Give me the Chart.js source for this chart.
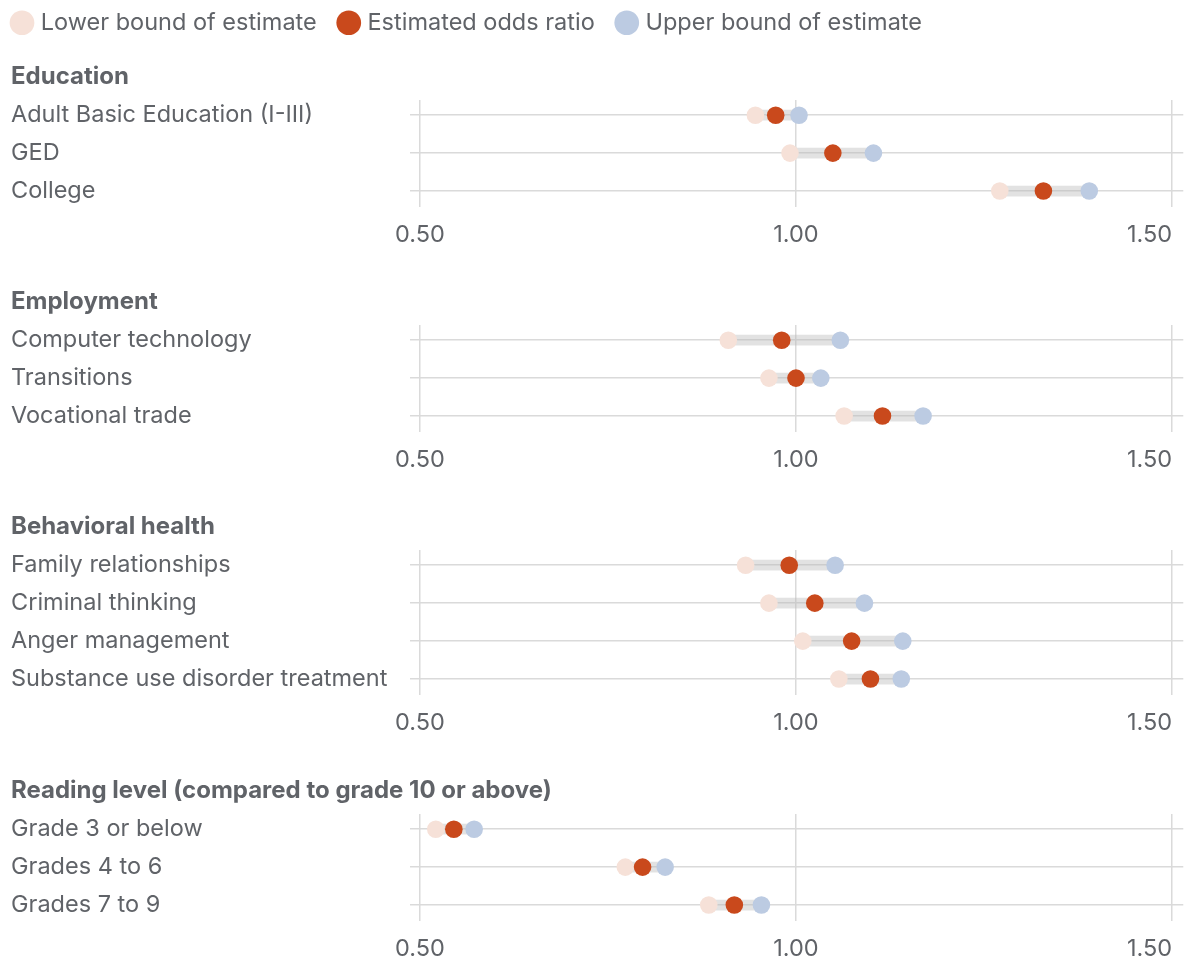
<!DOCTYPE html>
<html>
<head>
<meta charset="utf-8">
<script src="https://cdn.jsdelivr.net/npm/chart.js@4.4.1/dist/chart.umd.min.js"></script>
<style>
  html, body { margin: 0; padding: 0; background: #fff; overflow: hidden; }
  #wrap { position: relative; width: 1186px; height: 961px; overflow: hidden; background: #fff; }
  #wrap canvas { position: absolute; }
</style>
</head>
<body>
<div id="wrap">
  <canvas id="educationChart"></canvas>
  <canvas id="employmentChart"></canvas>
  <canvas id="behavioralChart"></canvas>
  <canvas id="readingChart"></canvas>
  <canvas id="legendChart"></canvas>
</div>
<script>
// ---- data ----
const seriesNames = ['Lower bound of estimate', 'Estimated odds ratio', 'Upper bound of estimate'];
const xTickValues = [0.5, 1.0, 1.5];

const educationLabels   = ['Adult Basic Education (I-III)', 'GED', 'College'];
const educationLower    = [0.946, 0.992, 1.271];
const educationEstimate = [0.973, 1.049, 1.329];
const educationUpper    = [1.004, 1.103, 1.390];

const employmentLabels   = ['Computer technology', 'Transitions', 'Vocational trade'];
const employmentLower    = [0.910, 0.964, 1.064];
const employmentEstimate = [0.981, 1.000, 1.115];
const employmentUpper    = [1.059, 1.033, 1.169];

const behavioralLabels   = ['Family relationships', 'Criminal thinking', 'Anger management', 'Substance use disorder treatment'];
const behavioralLower    = [0.933, 0.964, 1.009, 1.057];
const behavioralEstimate = [0.991, 1.025, 1.074, 1.099];
const behavioralUpper    = [1.052, 1.091, 1.142, 1.140];

const readingLabels   = ['Grade 3 or below', 'Grades 4 to 6', 'Grades 7 to 9'];
const readingLower    = [0.521, 0.773, 0.884];
const readingEstimate = [0.545, 0.796, 0.918];
const readingUpper    = [0.572, 0.826, 0.954];

// ---- style ----
const FONT = 'Inter, Lato, sans-serif';
const TEXT_COLOR = '#606368';
const GRID_COLOR = '#dadada';
const LOWER_COLOR = '#f6e1d8';
const EST_COLOR = '#c9491c';
const UPPER_COLOR = '#bccbe2';
const RANGE_COLOR = 'rgba(185,185,185,0.42)';
const FONT_SIZE = 23.5;
const TITLE_SIZE = 24;
const DOT_RADIUS = 8.8;

const WIDTH = 1186;
const ROW = 38;            // px between rows
const PAD_TOP = 0.4;       // chart-area margin above first row (in rows)
const PAD_BOTTOM = 0.42;   // chart-area margin below last row (in rows)
const TITLE_PAD_TOP = 5.6;
const TITLE_PAD_BOTTOM = 8.6;
const TITLE_BOX = TITLE_PAD_TOP + TITLE_SIZE * 1.2 + TITLE_PAD_BOTTOM;
const AXIS_H = 46;
const X_MAX = 1.515;

Chart.defaults.font.family = FONT;
Chart.defaults.color = TEXT_COLOR;

// ---- legend ----
(function () {
  const c = document.getElementById('legendChart');
  c.width = WIDTH + 10; c.height = 200;
  c.style.left = '-10px'; c.style.top = '-14px';
  new Chart(c, {
    type: 'scatter',
    data: {
      datasets: [
        { label: seriesNames[0], data: [], backgroundColor: LOWER_COLOR, borderWidth: 0, pointStyle: 'circle' },
        { label: seriesNames[1], data: [], backgroundColor: EST_COLOR, borderWidth: 0, pointStyle: 'circle' },
        { label: seriesNames[2], data: [], backgroundColor: UPPER_COLOR, borderWidth: 0, pointStyle: 'circle' }
      ]
    },
    options: {
      responsive: false,
      animation: false,
      events: [],
      scales: { x: { display: false }, y: { display: false } },
      plugins: {
        tooltip: { enabled: false },
        legend: {
          display: true,
          position: 'top',
          align: 'start',
          labels: {
            usePointStyle: true,
            boxWidth: 14,
            boxHeight: 17.5,
            padding: 25,
            color: TEXT_COLOR,
            font: { size: FONT_SIZE, family: FONT }
          }
        }
      }
    }
  });
})();

// ---- one dot-plot panel ----
function makePanel(id, top, title, labels, lower, estimate, upper) {
  const n = labels.length;
  const rows = labels.map((_, i) => i);
  const c = document.getElementById(id);
  c.width = WIDTH;
  c.height = Math.round(TITLE_BOX + ROW * (n - 1 + PAD_TOP + PAD_BOTTOM) + AXIS_H);
  c.style.left = '0px';
  c.style.top = top + 'px';

  new Chart(c, {
    type: 'scatter',
    data: {
      datasets: [
        {
          type: 'bar',
          indexAxis: 'y',
          data: rows.map(i => ({ y: i, x: [lower[i], upper[i]] })),
          backgroundColor: RANGE_COLOR,
          borderWidth: 0,
          barThickness: 10,
          order: 3
        },
        {
          data: rows.map(i => ({ x: lower[i], y: i })),
          backgroundColor: LOWER_COLOR,
          pointRadius: DOT_RADIUS, pointHoverRadius: DOT_RADIUS, pointBorderWidth: 0,
          order: 2
        },
        {
          data: rows.map(i => ({ x: upper[i], y: i })),
          backgroundColor: UPPER_COLOR,
          pointRadius: DOT_RADIUS, pointHoverRadius: DOT_RADIUS, pointBorderWidth: 0,
          order: 2
        },
        {
          data: rows.map(i => ({ x: estimate[i], y: i })),
          backgroundColor: EST_COLOR,
          pointRadius: DOT_RADIUS, pointHoverRadius: DOT_RADIUS, pointBorderWidth: 0,
          order: 1
        }
      ]
    },
    options: {
      responsive: false,
      animation: false,
      events: [],
      layout: { padding: { left: 11, right: 0, top: 0, bottom: 0 }, autoPadding: false },
      plugins: {
        legend: { display: false },
        tooltip: { enabled: false },
        title: {
          display: true,
          text: title,
          align: 'start',
          color: TEXT_COLOR,
          font: { size: TITLE_SIZE, weight: 'bold', family: FONT },
          padding: { top: TITLE_PAD_TOP, bottom: TITLE_PAD_BOTTOM }
        }
      },
      scales: {
        x: {
          type: 'linear',
          min: xTickValues[0],
          max: X_MAX,
          offset: false,
          // an unlabeled leading tick keeps "0.50" centred while 'inner' right-aligns the last label
          afterBuildTicks: s => { s.ticks = [xTickValues[0]].concat(xTickValues).map(v => ({ value: v })); },
          afterFit: s => { s.height = AXIS_H; },
          border: { display: false },
          grid: {
            offset: false,
            drawTicks: false,
            lineWidth: 1.5,
            color: ctx => (ctx.index === 0 ? 'rgba(0,0,0,0)' : GRID_COLOR)
          },
          ticks: {
            align: 'inner',
            autoSkip: false,
            maxRotation: 0,
            padding: 14,
            color: TEXT_COLOR,
            font: { size: FONT_SIZE, family: FONT },
            callback: (v, i) => (i === 0 ? '' : Number(v).toFixed(2))
          }
        },
        y: {
          type: 'linear',
          reverse: true,
          offset: false,
          min: -PAD_TOP,
          max: n - 1 + PAD_BOTTOM,
          afterBuildTicks: s => { s.ticks = rows.map(v => ({ value: v })); },
          afterFit: s => { s.width = 420 - 11; },
          border: { display: false },
          grid: { offset: false, color: GRID_COLOR, lineWidth: 1.5, drawTicks: true, tickLength: 10 },
          ticks: {
            autoSkip: false,
            crossAlign: 'far',
            color: TEXT_COLOR,
            font: { size: FONT_SIZE, family: FONT },
            callback: v => labels[Math.round(v)]
          }
        }
      }
    }
  });
}

makePanel('educationChart', 57, 'Education', educationLabels, educationLower, educationEstimate, educationUpper);
makePanel('employmentChart', 282, 'Employment', employmentLabels, employmentLower, employmentEstimate, employmentUpper);
makePanel('behavioralChart', 507, 'Behavioral health', behavioralLabels, behavioralLower, behavioralEstimate, behavioralUpper);
makePanel('readingChart', 771, 'Reading level (compared to grade 10 or above)', readingLabels, readingLower, readingEstimate, readingUpper);
</script>
</body>
</html>
